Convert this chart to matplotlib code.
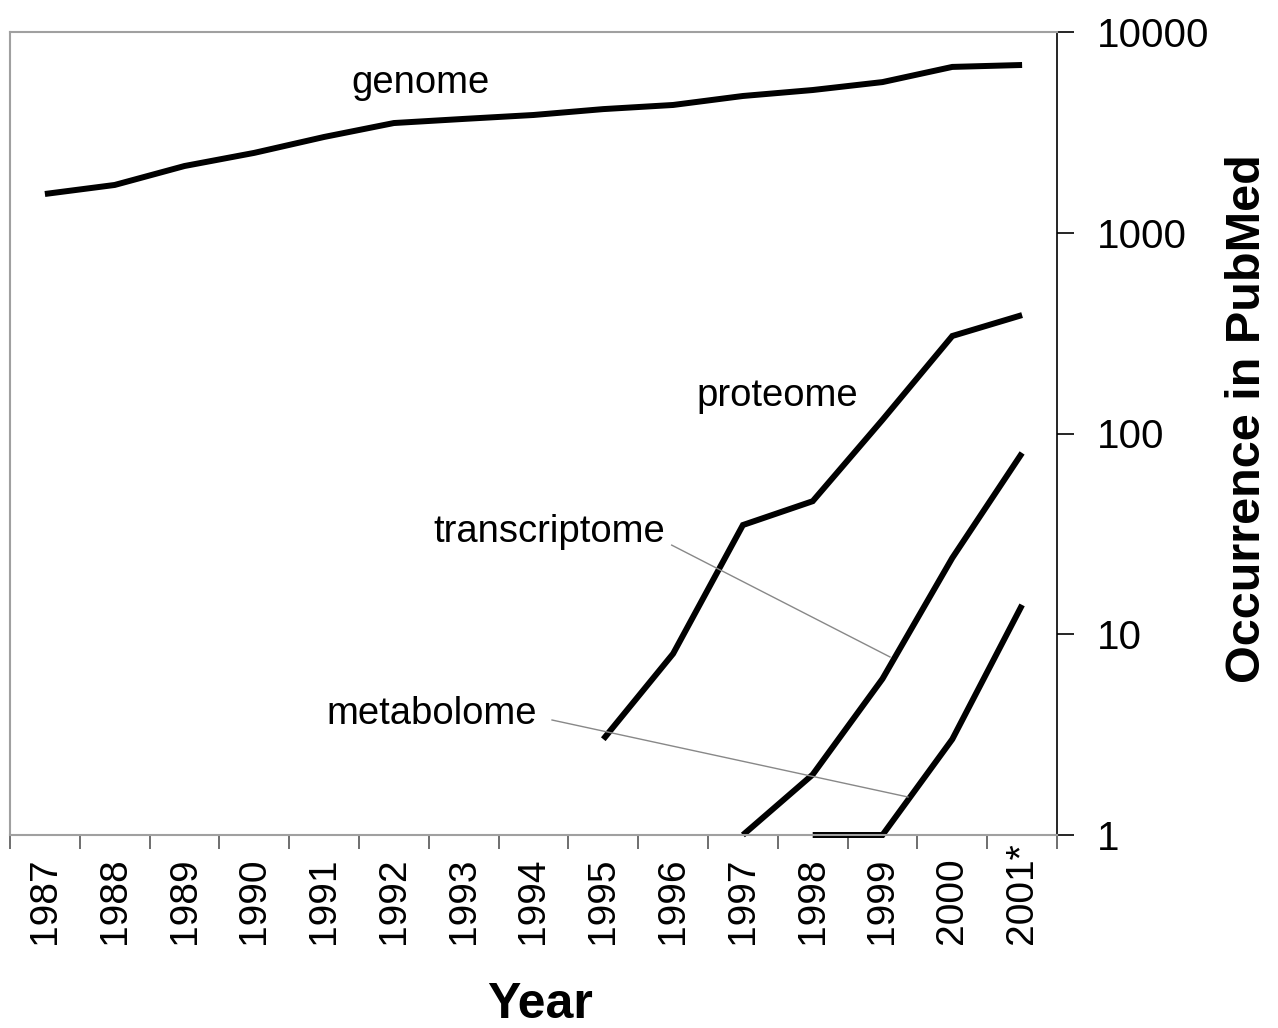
import numpy as np
import matplotlib
matplotlib.use("Agg")
import matplotlib.pyplot as plt

plt.rcParams['font.family'] = ['Liberation Sans', 'DejaVu Sans']

years = ['1987', '1988', '1989', '1990', '1991', '1992', '1993', '1994',
         '1995', '1996', '1997', '1998', '1999', '2000', '2001*']

# occurrences read off the log scale (None = not drawn)
genome = [1560, 1730, 2150, 2500, 3000, 3520, 3690, 3860,
          4130, 4330, 4800, 5140, 5630, 6700, 6850]
proteome = [None] * 8 + [3, 8, 35, 46, 117, 306, 389]
transcriptome = [None] * 10 + [1, 2, 6, 24, 80]
metabolome = [None] * 11 + [1, 1, 3, 14]

yticks = [1, 10, 100, 1000, 10000]


def series(vals):
    x = [i for i, v in enumerate(vals) if v is not None]
    y = [v for v in vals if v is not None]
    return x, y


fig = plt.figure(figsize=(12.78, 10.28), dpi=100)
ax = fig.add_axes([10 / 1278, 1 - 835 / 1028, 1047 / 1278, 803 / 1028])

for vals in (genome, proteome, transcriptome, metabolome):
    x, y = series(vals)
    ax.plot(x, y, color='black', lw=4.3, solid_capstyle='butt',
            solid_joinstyle='miter', clip_on=False)

ax.set_yscale('log')
ax.set_ylim(1, 10000)
ax.set_xlim(-0.5, len(years) - 0.5)

# y axis on the right
ax.yaxis.tick_right()
ax.set_yticks(yticks)
ax.set_yticklabels([str(t) for t in yticks])
ax.yaxis.set_minor_locator(matplotlib.ticker.NullLocator())
ax.tick_params(axis='y', direction='out', length=12, width=1.2, colors='black',
               labelsize=29, pad=17)

# x ticks at category boundaries, labels drawn as text
ax.set_xticks(np.arange(-0.5, len(years)))
ax.set_xticklabels([])
ax.tick_params(axis='x', direction='out', length=10, width=1.2, color='#555555')
tr = matplotlib.transforms.blended_transform_factory(ax.transData, ax.transAxes)
for i, lab in enumerate(years):
    ax.text(i, -0.1357, lab, rotation=90, ha='center', va='bottom',
            fontsize=28, transform=tr)

for side in ('left', 'top', 'bottom'):
    ax.spines[side].set_color('#a0a0a0')
    ax.spines[side].set_linewidth(1.5)
ax.spines['right'].set_color('black')
ax.spines['right'].set_linewidth(1.2)

# series labels
ax.text(0.392, 0.936, 'genome', transform=ax.transAxes, fontsize=27.5,
        ha='center', va='center')
ax.text(0.733, 0.547, 'proteome', transform=ax.transAxes, fontsize=27.5,
        ha='center', va='center')
ax.text(0.515, 0.377, 'transcriptome', transform=ax.transAxes, fontsize=27.5,
        ha='center', va='center')
ax.text(0.403, 0.151, 'metabolome', transform=ax.transAxes, fontsize=27.5,
        ha='center', va='center')
ax.plot([0.632, 0.8405], [0.361, 0.2217], transform=ax.transAxes,
        color='#888888', lw=1)
ax.plot([0.5177, 0.8577], [0.1432, 0.0473], transform=ax.transAxes,
        color='#888888', lw=1)

fig.text(0.4225, 0.010, 'Year', fontsize=36, fontweight='bold',
         ha='center', va='baseline')
fig.text(0.9765, 0.5924, 'Occurrence in PubMed', fontsize=35, fontweight='bold',
         rotation=90, ha='center', va='center')

fig.savefig('out.png', dpi=100)
